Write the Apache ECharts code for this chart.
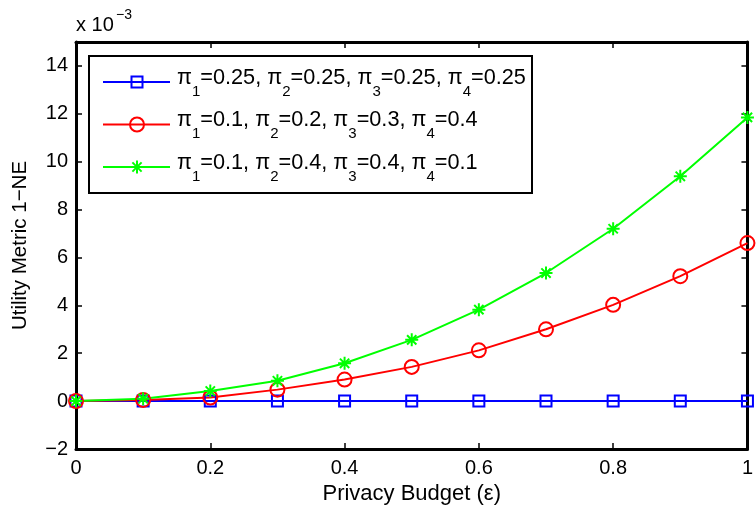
<!DOCTYPE html>
<html>
<head>
<meta charset="utf-8">
<script src="https://cdn.jsdelivr.net/npm/echarts@6/dist/echarts.min.js"></script>
<style>html,body{margin:0;padding:0;background:#fff}#c{width:756px;height:511px}</style>
</head>
<body>
<div id="c"></div>
<script>
var xValues = [0, 0.1, 0.2, 0.3, 0.4, 0.5, 0.6, 0.7, 0.8, 0.9, 1.0];
var seriesNames = [
  "π1=0.25, π2=0.25, π3=0.25, π4=0.25",
  "π1=0.1, π2=0.2, π3=0.3, π4=0.4",
  "π1=0.1, π2=0.4, π3=0.4, π4=0.1"
];
var seriesColors = ['#0000ff', '#ff0000', '#00ff00'];
var seriesSymbols = ['square', 'circle', 'star'];
// values in units of 1e-3
var uniformValues = [0, 0, 0, 0, 0, 0, 0, 0, 0, 0, 0];
var increasingValues = [0, 0.05, 0.15, 0.48, 0.9, 1.43, 2.12, 3.0, 4.02, 5.22, 6.6];
var peakedValues = [0, 0.1, 0.42, 0.85, 1.58, 2.56, 3.82, 5.35, 7.2, 9.39, 11.85];
var xTicks = [0, 0.2, 0.4, 0.6, 0.8, 1];
var yTicks = [-2, 0, 2, 4, 6, 8, 10, 12, 14];

var FONT = 'Liberation Sans';
function pairs(vals){ return xValues.map(function(x,i){ return [x, vals[i]]; }); }
var starPath = 'path://M0,-6L0,6M-6,0L6,0M-4.3,-4.3L4.3,4.3M-4.3,4.3L4.3,-4.3';

function richName(name){
  var parts = name.split(/π(\d)/);
  var out = '';
  for (var i = 0; i < parts.length; i++) {
    if (i % 2 === 1) out += '{s|' + parts[i] + '}';
    else {
      var seg = parts[i];
      if (i < parts.length - 1) seg += 'π';
      if (seg.length) out += '{m|' + seg + '}';
    }
  }
  return out;
}

// legend drawn as graphic elements (box, sample line, marker, label)
var LG = {left:89, top:56, width:443, height:137, rows:[82, 124.5, 167], x1:103, x2:170, mx:137, tx:177};
function legendGraphics(){
  var els = [{type:'rect', z:100, shape:{x:LG.left, y:LG.top, width:LG.width, height:LG.height},
    style:{fill:'#fff', stroke:'#000', lineWidth:2}}];
  seriesNames.forEach(function(name, i){
    var y = LG.rows[i], c = seriesColors[i];
    els.push({type:'line', z:101, shape:{x1:LG.x1, y1:y, x2:LG.x2, y2:y}, style:{stroke:c, lineWidth:2}});
    if (seriesSymbols[i] === 'square') {
      els.push({type:'rect', z:102, shape:{x:LG.mx-5.5, y:y-5.5, width:11, height:11}, style:{fill:'none', stroke:c, lineWidth:2}});
    } else if (seriesSymbols[i] === 'circle') {
      els.push({type:'circle', z:102, shape:{cx:LG.mx, cy:y, r:7}, style:{fill:'none', stroke:c, lineWidth:2}});
    } else {
      [[0,-6.5,0,6.5],[-6.5,0,6.5,0],[-4.6,-4.6,4.6,4.6],[-4.6,4.6,4.6,-4.6]].forEach(function(s){
        els.push({type:'line', z:102, shape:{x1:LG.mx+s[0], y1:y+s[1], x2:LG.mx+s[2], y2:y+s[3]}, style:{stroke:c, lineWidth:2}});
      });
    }
    els.push({type:'text', z:103, x:LG.tx, y:y, style:{
      text:richName(name), fill:'#000', verticalAlign:'middle', align:'left',
      font:'21.7px ' + FONT,
      rich:{
        m:{fontFamily:FONT, fontSize:21.7, fill:'#000', padding:[0,0,8,0]},
        s:{fontFamily:FONT, fontSize:15, fill:'#000', padding:[19,0,0,0]}
      }}});
  });
  return els;
}

var chart = echarts.init(document.getElementById('c'), null, {renderer:'canvas'});
function axisCommon(){
  return {
    axisLine:{show:true, onZero:false, lineStyle:{color:'#000', width:3}},
    axisTick:{show:true, inside:true, length:6, lineStyle:{color:'#000', width:1.5}},
    splitLine:{show:false}
  };
}
chart.setOption({
  animation:false,
  backgroundColor:'#fff',
  grid:{left:76, top:42, width:682, height:407, containLabel:false},
  xAxis:[
    Object.assign({type:'value', position:'bottom', min:0, max:1, interval:0.2,
      name:'Privacy Budget (ε)', nameLocation:'middle', nameGap:34,
      nameTextStyle:{fontFamily:FONT, fontSize:22, color:'#000'},
      axisLabel:{fontFamily:FONT, fontSize:20, color:'#000', margin:9,
        formatter:function(v){ var t = xTicks.find(function(k){return Math.abs(k-v)<1e-9;}); return t===undefined?'':String(t); }}
    }, axisCommon()),
    Object.assign({type:'value', position:'top', min:0, max:1, interval:0.2, axisLabel:{show:false}}, axisCommon())
  ],
  yAxis:[
    Object.assign({type:'value', position:'left', min:-2, max:15, interval:2,
      name:'Utility Metric 1−NE', nameLocation:'middle', nameGap:45, nameRotate:90,
      nameTextStyle:{fontFamily:FONT, fontSize:20.5, color:'#000'},
      axisLabel:{fontFamily:FONT, fontSize:20, color:'#000', margin:8, showMaxLabel:false,
        formatter:function(v){ return yTicks.indexOf(v) < 0 ? '' : String(v).replace('-', '−'); }}
    }, axisCommon()),
    Object.assign({type:'value', position:'right', min:-2, max:15, interval:2, axisLabel:{show:false}}, axisCommon())
  ],
  graphic:[
    {type:'text', left:76, top:15, style:{text:'x 10', fontFamily:FONT, fontSize:20, fill:'#000'}},
    {type:'text', left:116, top:8, style:{text:'−3', fontFamily:FONT, fontSize:14, fill:'#000'}}
  ].concat(legendGraphics()),
  series:[
    {name:seriesNames[0], type:'line', data:pairs(uniformValues), symbol:'rect', symbolSize:11,
      lineStyle:{color:seriesColors[0], width:2}, itemStyle:{color:'rgba(0,0,0,0)', borderColor:seriesColors[0], borderWidth:2}},
    {name:seriesNames[1], type:'line', data:pairs(increasingValues), symbol:'circle', symbolSize:14,
      lineStyle:{color:seriesColors[1], width:2}, itemStyle:{color:'rgba(0,0,0,0)', borderColor:seriesColors[1], borderWidth:2}},
    {name:seriesNames[2], type:'line', data:pairs(peakedValues), symbol:starPath, symbolSize:13,
      lineStyle:{color:seriesColors[2], width:2}, itemStyle:{color:'rgba(0,0,0,0)', borderColor:seriesColors[2], borderWidth:2}}
  ]
});
</script>
</body>
</html>
